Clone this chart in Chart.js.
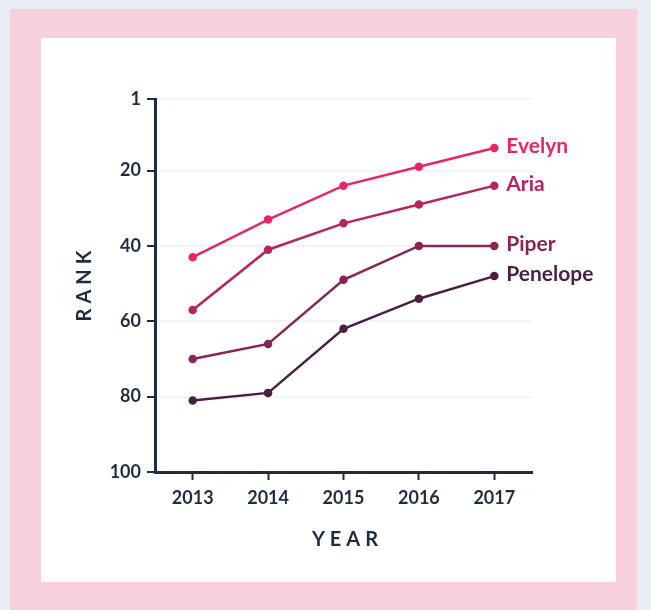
<!DOCTYPE html>
<html>
<head>
<meta charset="utf-8">
<script src="https://cdn.jsdelivr.net/npm/chart.js@4.4.1/dist/chart.umd.min.js"></script>
<style>
  html, body { margin: 0; padding: 0; }
  body { width: 651px; height: 610px; background: #e9ecf2; position: relative; overflow: hidden; }
  #frame { position: absolute; left: 10px; top: 9px; width: 627px; height: 620px; background: #f8d0db; }
  #card { position: absolute; left: 41px; top: 38px; width: 575px; height: 544px; background: #ffffff; }
  #card canvas { display: block; }
</style>
</head>
<body>
<div id="frame"></div>
<div id="card"><canvas id="rankChart" width="575" height="544"></canvas></div>
<script>
// datos del gráfico
const years = ["2013", "2014", "2015", "2016", "2017"];
const names = ["Evelyn", "Aria", "Piper", "Penelope"];
const evelynRank = [43, 33, 24, 19, 14];
const ariaRank = [57, 41, 34, 29, 24];
const piperRank = [70, 66, 49, 40, 40];
const penelopeRank = [81, 79, 62, 54, 48];
const rankTicks = [1, 20, 40, 60, 80, 100];
const lineColors = ["#e8246a", "#b8245f", "#8a2456", "#4b1f45"];

const axisColor = "#1e2d40";
const seriesValues = [evelynRank, ariaRank, piperRank, penelopeRank];

// etiquetas con el nombre al final de cada línea
const endLabels = {
    id: "endLabels",
    afterDatasetsDraw(chart) {
        const ctx = chart.ctx;
        ctx.save();
        ctx.font = "bold 21px Lato";
        ctx.textBaseline = "alphabetic";
        ctx.textAlign = "left";
        chart.data.datasets.forEach((ds, i) => {
            const meta = chart.getDatasetMeta(i);
            const last = meta.data[meta.data.length - 1];
            ctx.fillStyle = ds.borderColor;
            ctx.fillText(ds.label, last.x + 12, last.y + 5);
        });
        ctx.restore();
    },
};

// títulos de los ejes con espaciado entre letras
const axisTitles = {
    id: "axisTitles",
    afterDraw(chart) {
        const ctx = chart.ctx;
        const area = chart.chartArea;
        ctx.save();
        ctx.font = "bold 20px Lato";
        ctx.fillStyle = axisColor;
        ctx.textAlign = "center";
        ctx.textBaseline = "middle";
        ctx.letterSpacing = "5px";
        ctx.fillText("YEAR", (area.left + area.right) / 2 + 4, 502);
        ctx.translate(44, (area.top + area.bottom) / 2);
        ctx.rotate(-Math.PI / 2);
        ctx.fillText("RANK", 2, 0);
        ctx.restore();
    },
};

const ctx = document.getElementById("rankChart").getContext("2d");

new Chart(ctx, {
    type: "line",
    data: {
        labels: years,
        datasets: names.map((name, i) => ({
            label: name,
            data: seriesValues[i],
            borderColor: lineColors[i],
            backgroundColor: lineColors[i],
            borderWidth: 2.5,
            pointRadius: 3,
            pointHoverRadius: 3,
            tension: 0,
        })),
    },
    options: {
        responsive: false,
        animation: false,
        layout: { padding: { top: 61, right: 84, bottom: 0, left: 0 } },
        plugins: {
            legend: { display: false },
            tooltip: { enabled: false },
        },
        scales: {
            x: {
                offset: true,
                grid: {
                    display: true,
                    drawOnChartArea: false,
                    drawTicks: true,
                    tickLength: 8,
                    tickWidth: 2,
                    tickColor: axisColor,
                    offset: false,
                },
                border: { color: axisColor, width: 3 },
                ticks: {
                    color: axisColor,
                    font: { family: "Lato", size: 18, weight: "bold" },
                    padding: 7,
                    maxRotation: 0,
                },
                afterFit(scale) { scale.height = 110; },
            },
            y: {
                reverse: true,
                min: 1,
                max: 100,
                afterBuildTicks(scale) {
                    scale.ticks = rankTicks.map((v) => ({ value: v }));
                },
                grid: {
                    color: "#f3f4f6",
                    lineWidth: 2,
                    tickLength: 8,
                    tickWidth: 2,
                    tickColor: axisColor,
                },
                border: { color: axisColor, width: 3 },
                ticks: {
                    color: axisColor,
                    font: { family: "Lato", size: 18, weight: "bold" },
                    padding: 6,
                },
                afterFit(scale) { scale.width = 114; },
            },
        },
    },
    plugins: [endLabels, axisTitles],
});
</script>
</body>
</html>
